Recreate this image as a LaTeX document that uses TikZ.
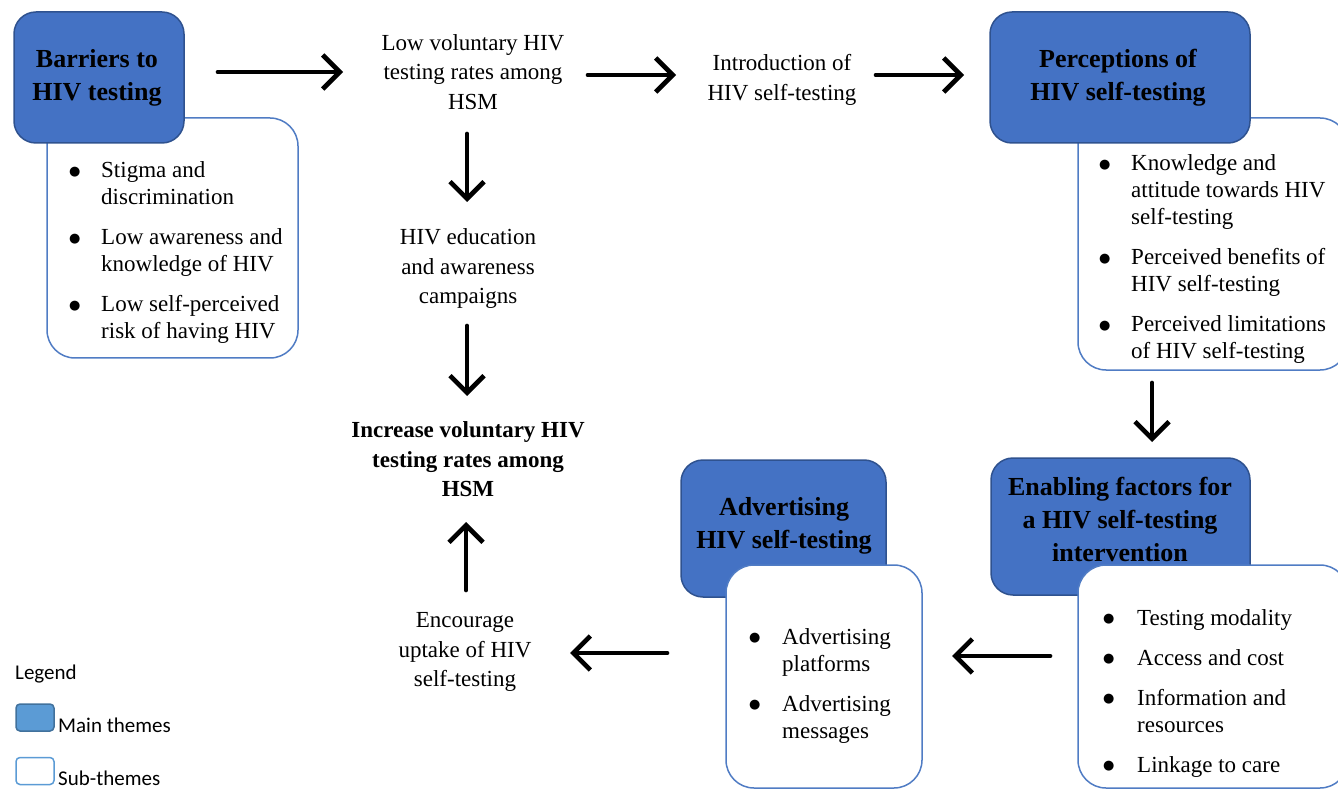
\documentclass[tikz,border=0pt]{standalone}
\usepackage{fontspec}
\setmainfont{Liberation Serif}
\newfontfamily\legendfont{Carlito}
\newfontfamily\dejavu{DejaVu Sans}
\newcommand{\bdot}{\raisebox{2.5pt}{\dejavu\fontsize{13}{13}\selectfont ●}}
\usetikzlibrary{arrows.meta}
\definecolor{mainblue}{RGB}{68,114,196}
\definecolor{mainedge}{RGB}{47,82,143}
\definecolor{subedge}{RGB}{80,124,196}
\definecolor{legmain}{RGB}{91,155,213}
\definecolor{legedge}{RGB}{65,113,156}
\begin{document}
\begin{tikzpicture}[x=1pt,y=-1pt,
 mainbox/.style={draw=mainedge, line width=1.5pt, fill=mainblue, rounded corners=22pt, inner sep=0pt},
 subbox/.style={draw=subedge, line width=1.5pt, fill=white, rounded corners=28pt, inner sep=0pt},
 heading/.style={font=\fontsize{26}{33}\selectfont\bfseries, align=center, inner sep=0pt},
 plain/.style={font=\fontsize{23}{29.5}\selectfont, align=center, inner sep=0pt},
 blist/.style={font=\fontsize{23}{27}\selectfont, anchor=base west, inner sep=0pt},
 flow/.style={line width=4.7pt, line cap=round, -{Straight Barb[length=17pt,width=34pt]}},
 legbox/.style={rounded corners=4pt, line width=1.5pt, minimum width=38pt, minimum height=27pt, inner sep=0pt},
 legtext/.style={font=\legendfont\fontsize{21}{24}\selectfont, anchor=base west, inner sep=0pt}
]
\useasboundingbox (0,0) rectangle (1338,791);

% Barriers
\node[subbox, minimum width=251pt, minimum height=240pt] (barsub) at (172.5,238) {};
\node[mainbox, minimum width=170pt, minimum height=131pt] (barmain) at (99,77.5) {};
\node[heading] (bartxt) at (97,77.5) {Barriers to\\HIV testing};
\node[blist] (barlist) at (69,178) {\begin{tabular}[t]{@{}p{32pt}@{}l@{}}
\bdot & Stigma and\\ & discrimination\\[13pt]
\bdot & Low awareness and\\ & knowledge of HIV\\[13pt]
\bdot & Low self-perceived\\ & risk of having HIV
\end{tabular}};

% Perceptions
\node[subbox, minimum width=270pt, minimum height=252pt] (persub) at (1213,244) {};
\node[mainbox, minimum width=260pt, minimum height=131pt] (permain) at (1120,77.5) {};
\node[heading] (pertxt) at (1118,77.5) {Perceptions of\\HIV self-testing};
\node[blist] (perlist) at (1099,171) {\begin{tabular}[t]{@{}p{32pt}@{}l@{}}
\bdot & Knowledge and\\ & attitude towards HIV\\ & self-testing\\[13pt]
\bdot & Perceived benefits of\\ & HIV self-testing\\[13pt]
\bdot & Perceived limitations\\ & of HIV self-testing
\end{tabular}};

% Enabling
\node[mainbox, minimum width=259pt, minimum height=137pt] (enamain) at (1120.5,526.5) {};
\node[heading] (enatxt) at (1120,519) {Enabling factors for\\a HIV self-testing\\intervention};
\node[subbox, minimum width=270pt, minimum height=223pt] (enasub) at (1213,676.5) {};
\node[blist] (enalist) at (1103,625) {\begin{tabular}[t]{@{}p{34pt}@{}l@{}}
\bdot & Testing modality\\[13pt]
\bdot & Access and cost\\[13pt]
\bdot & Information and\\ & resources\\[13pt]
\bdot & Linkage to care
\end{tabular}};

% Advertising
\node[mainbox, minimum width=205pt, minimum height=137pt] (advmain) at (783.5,528.5) {};
\node[heading] (advtxt) at (784,526) {Advertising\\HIV self-testing};
\node[subbox, minimum width=196pt, minimum height=223pt] (advsub) at (824,676.5) {};
\node[blist] (advlist) at (749,644) {\begin{tabular}[t]{@{}p{33pt}@{}l@{}}
\bdot & Advertising\\ & platforms\\[13pt]
\bdot & Advertising\\ & messages
\end{tabular}};

% Plain texts
\node[plain] (low) at (473,72) {Low voluntary HIV\\testing rates among\\HSM};
\node[plain] (intro) at (782,80) {Introduction of\\HIV self-testing};
\node[plain] (edu) at (468,269) {HIV education\\and awareness\\campaigns};
\node[plain, font=\fontsize{23}{29.5}\selectfont\bfseries] (incr) at (468,459.5) {Increase voluntary HIV\\testing rates among\\HSM};
\node[plain] (enc) at (465,652) {Encourage\\uptake of HIV\\self-testing};

% Arrow end points
\coordinate (a1s) at (218,72);   \coordinate (a1e) at (343,72);
\coordinate (a2s) at (588,75);   \coordinate (a2e) at (676,75);
\coordinate (a3s) at (876,75);   \coordinate (a3e) at (964,75);
\coordinate (a4s) at (467,134);  \coordinate (a4e) at (467,202);
\coordinate (a5s) at (467,326);  \coordinate (a5e) at (467,396);
\coordinate (a6s) at (466,590);  \coordinate (a6e) at (466,522);
\coordinate (a7s) at (667,653);  \coordinate (a7e) at (570,653);
\coordinate (a8s) at (1050,656); \coordinate (a8e) at (952,656);
\coordinate (a9s) at (1152,383); \coordinate (a9e) at (1152,442);
\foreach \i in {1,...,9} {\draw[flow] (a\i s) -- (a\i e);}

% Legend
\node[legtext] (legtitle) at (15,679) {Legend};
\node[legbox, draw=legedge, fill=legmain] (legmainbox) at (35,717.5) {};
\node[legtext] (legmaintxt) at (58,732) {Main themes};
\node[legbox, draw=legmain, fill=white] (legsubbox) at (35,771) {};
\node[legtext] (legsubtxt) at (58,785) {Sub-themes};
\end{tikzpicture}
\end{document}
